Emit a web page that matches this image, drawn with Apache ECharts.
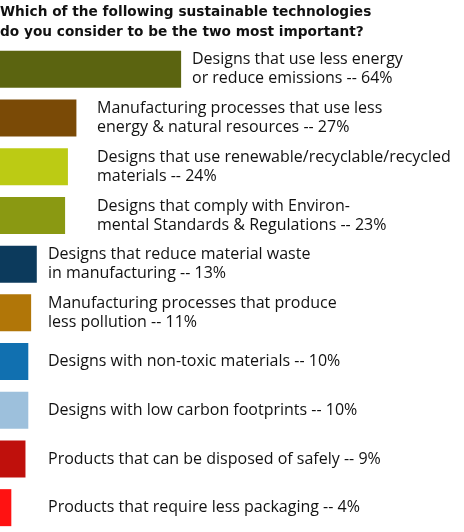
<!DOCTYPE html>
<html>
<head>
<meta charset="utf-8">
<script src="https://cdn.jsdelivr.net/npm/echarts@6/dist/echarts.min.js"></script>
<style>
  html, body { margin: 0; padding: 0; background: #fff; }
  #chart { width: 464px; height: 532px; }
</style>
</head>
<body>
<div id="chart"></div>
<script>
// categories (with the original line breaks) and percentages
var categories = [
    'Designs that use less energy\nor reduce emissions',
    'Manufacturing processes that use less\nenergy & natural resources',
    'Designs that use renewable/recyclable/recycled\nmaterials',
    'Designs that comply with Environ-\nmental Standards & Regulations',
    'Designs that reduce material waste\nin manufacturing',
    'Manufacturing processes that produce\nless pollution',
    'Designs with non-toxic materials',
    'Designs with low carbon footprints',
    'Products that can be disposed of safely',
    'Products that require less packaging'
];
var values = [64, 27, 24, 23, 13, 11, 10, 10, 9, 4];

var barColors = ['#5b6410', '#7a4a06', '#bccb14', '#8a9912', '#0c3a5c',
                 '#b17608', '#1170b0', '#9dc0dc', '#bf100c', '#ff1212'];
// label left edge (px from the chart's left) per row
var labelLeft = [192, 97, 97, 97, 48, 48, 48, 48, 48, 48];

var chart = echarts.init(document.getElementById('chart'));

var barData = values.map(function (v, i) {
    return {
        value: v,
        itemStyle: { color: barColors[i] },
        label: { position: [labelLeft[i], '50%'] }
    };
});

chart.setOption({
    animation: false,
    title: {
        text: 'Which of the following sustainable technologies\ndo you consider to be the two most important?',
        left: 0,
        top: 2,
        padding: 0,
        textStyle: {
            fontFamily: 'DejaVu Sans',
            fontSize: 13.7,
            fontWeight: 'bold',
            color: '#111',
            lineHeight: 20
        }
    },
    grid: { left: 0, top: 45, width: 283, height: 494 },
    xAxis: { type: 'value', min: 0, max: 100, show: false },
    yAxis: { type: 'category', data: categories, inverse: true, show: false },
    series: [{
        type: 'bar',
        data: barData,
        barWidth: 37,
        label: {
            show: true,
            align: 'left',
            verticalAlign: 'middle',
            fontFamily: 'Open Sans',
            fontSize: 16,
            lineHeight: 19,
            color: '#111',
            formatter: function (p) {
                return categories[p.dataIndex] + ' -- ' + p.value + '%';
            }
        }
    }]
});
</script>
</body>
</html>
